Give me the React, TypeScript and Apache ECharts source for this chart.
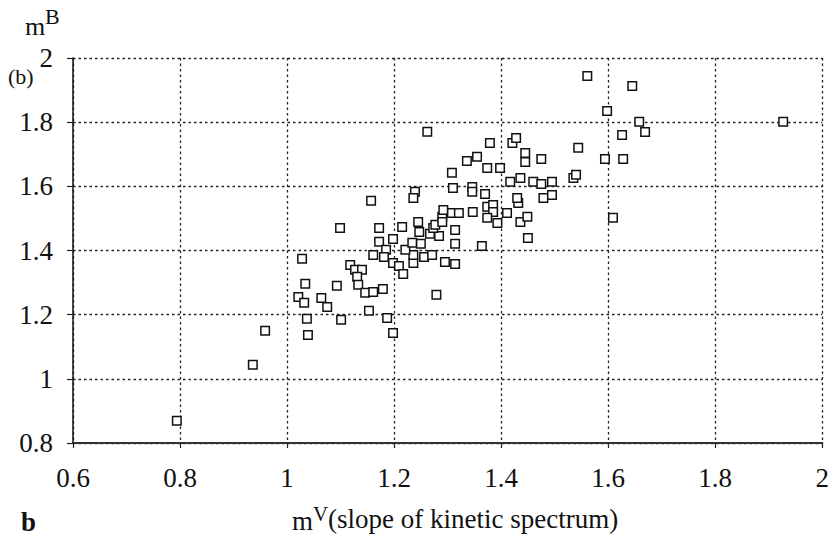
import React, { useEffect, useRef } from "react";
import * as echarts from "echarts";

const mV: number[] = [
  0.794, 0.936, 0.959, 1.028, 1.034, 1.021, 1.032, 1.037, 1.039, 1.064,
  1.075, 1.093, 1.099, 1.101, 1.118, 1.127, 1.140, 1.131, 1.133, 1.146,
  1.161, 1.179, 1.153, 1.187, 1.198, 1.157, 1.172, 1.215, 1.198, 1.172,
  1.185, 1.161, 1.181, 1.198, 1.209, 1.217, 1.236, 1.236, 1.256, 1.271,
  1.221, 1.234, 1.250, 1.247, 1.267, 1.284, 1.245, 1.273, 1.277, 1.290,
  1.290, 1.292, 1.308, 1.321, 1.314, 1.314, 1.295, 1.314, 1.279, 1.364,
  1.347, 1.374, 1.385, 1.385, 1.374, 1.393, 1.411, 1.432, 1.436, 1.449,
  1.450, 1.239, 1.236, 1.310, 1.346, 1.346, 1.370, 1.308, 1.336, 1.355,
  1.374, 1.398, 1.262, 1.379, 1.421, 1.428, 1.445, 1.445, 1.475, 1.417,
  1.436, 1.460, 1.475, 1.495, 1.479, 1.495, 1.544, 1.535, 1.540, 1.561,
  1.645, 1.598, 1.658, 1.669, 1.626, 1.628, 1.594, 1.609, 1.927, 1.430,
];

const mB: number[] = [
  0.869, 1.044, 1.150, 1.374, 1.296, 1.255, 1.237, 1.187, 1.137, 1.252,
  1.224, 1.290, 1.470, 1.184, 1.355, 1.340, 1.340, 1.318, 1.293, 1.268,
  1.271, 1.280, 1.212, 1.190, 1.143, 1.555, 1.470, 1.473, 1.436, 1.427,
  1.402, 1.386, 1.380, 1.361, 1.352, 1.327, 1.361, 1.386, 1.380, 1.386,
  1.402, 1.424, 1.421, 1.458, 1.452, 1.445, 1.489, 1.470, 1.480, 1.505,
  1.489, 1.526, 1.517, 1.517, 1.464, 1.421, 1.364, 1.358, 1.262, 1.414,
  1.520, 1.536, 1.542, 1.520, 1.502, 1.486, 1.517, 1.548, 1.489, 1.505,
  1.439, 1.583, 1.564, 1.595, 1.598, 1.583, 1.576, 1.642, 1.679, 1.692,
  1.657, 1.657, 1.770, 1.735, 1.735, 1.751, 1.704, 1.676, 1.685, 1.614,
  1.626, 1.614, 1.607, 1.614, 1.564, 1.573, 1.720, 1.626, 1.636, 1.944,
  1.913, 1.835, 1.801, 1.769, 1.760, 1.685, 1.685, 1.502, 1.801, 1.564,
];

const xTicks = { min: 0.6, max: 2, interval: 0.2 };
const yTicks = { min: 0.8, max: 2, interval: 0.2 };

const FONT = "'Liberation Serif', 'DejaVu Serif', serif";

export default function App() {
  const ref = useRef<HTMLDivElement>(null);
  useEffect(() => {
    if (!ref.current) return;
    const chart = echarts.init(ref.current, null, { renderer: "svg" });
    const fmt = (v: number) => String(Math.round(v * 10) / 10);
    const gridLine = { show: true, lineStyle: { color: "#222", width: 1.3, type: [2.5, 3] as any } };
    const txt = { color: "#111", fontSize: 27, fontFamily: FONT };
    chart.setOption({
      animation: false,
      backgroundColor: "#fff",
      textStyle: { fontFamily: FONT },
      grid: { left: 73, right: 9, top: 58, bottom: 97, containLabel: false },
      xAxis: {
        type: "value",
        min: xTicks.min,
        max: xTicks.max,
        interval: xTicks.interval,
        axisLine: { show: true, onZero: false, lineStyle: { color: "#333", width: 2 } },
        axisTick: { show: true, inside: false, length: 5, lineStyle: { color: "#222", width: 1.2 } },
        axisLabel: { ...txt, margin: 21, formatter: fmt },
        splitLine: gridLine,
      },
      yAxis: {
        type: "value",
        min: yTicks.min,
        max: yTicks.max,
        interval: yTicks.interval,
        axisLine: { show: true, onZero: false, lineStyle: { color: "#111", width: 1.5 } },
        axisTick: { show: true, inside: false, length: 6, lineStyle: { color: "#222", width: 1.2 } },
        axisLabel: { ...txt, margin: 20, formatter: fmt },
        splitLine: gridLine,
      },
      series: [
        {
          type: "scatter",
          symbol: "rect",
          symbolSize: 8.5,
          itemStyle: { color: "#fff", borderColor: "#111", borderWidth: 1.5, opacity: 1 },
          data: mV.map((x, i) => [x, mB[i]]),
        },
      ],
      graphic: [
        { type: "text", left: 25, top: 13, style: { text: "m", fontSize: 26, fontFamily: FONT, fill: "#111" } },
        { type: "text", left: 45, top: 5, style: { text: "B", fontSize: 22, fontFamily: FONT, fill: "#111" } },
        { type: "text", left: 8, top: 65, style: { text: "(b)", fontSize: 22, fontFamily: FONT, fill: "#111" } },
        { type: "text", left: 21, top: 508, style: { text: "b", fontSize: 27, fontWeight: "bold", fontFamily: FONT, fill: "#111" } },
        { type: "text", left: 292, top: 507, style: { text: "m", fontSize: 27, fontFamily: FONT, fill: "#111" } },
        { type: "text", left: 313, top: 503, style: { text: "V", fontSize: 21, fontFamily: FONT, fill: "#111" } },
        { type: "text", left: 328, top: 505, style: { text: "(slope of kinetic spectrum)", fontSize: 27, fontFamily: FONT, fill: "#111" } },
      ],
    });
    return () => chart.dispose();
  }, []);
  return <div ref={ref} style={{ width: 832, height: 540, position: "absolute", left: 0, top: 0 }} />;
}
